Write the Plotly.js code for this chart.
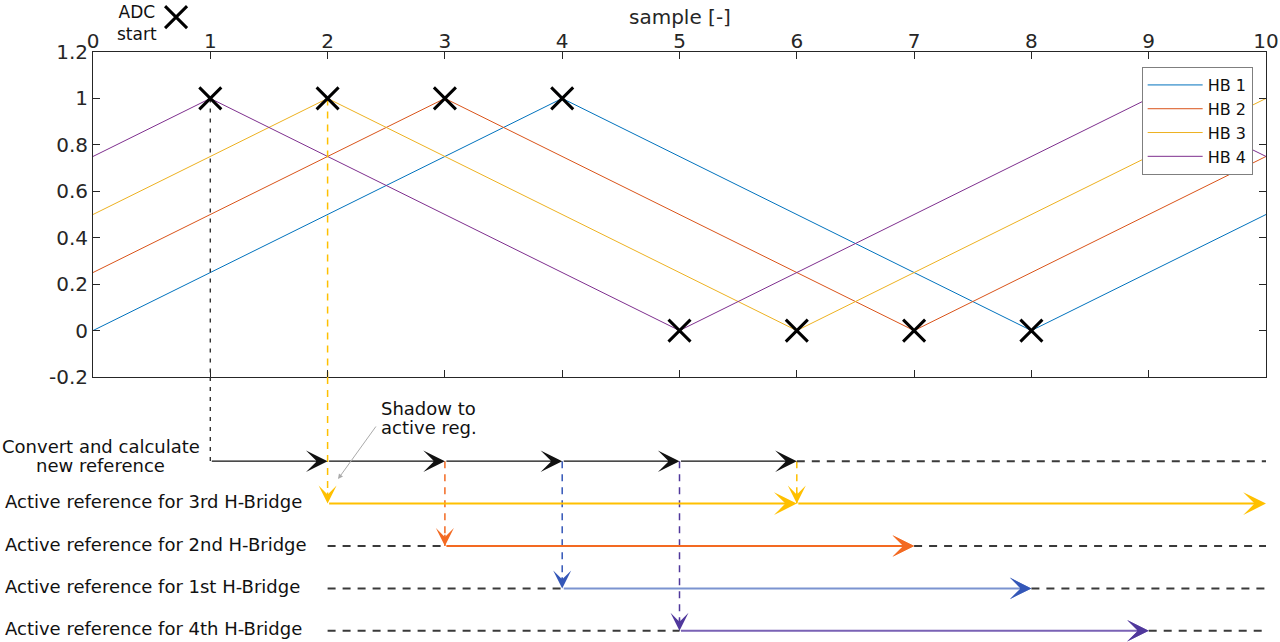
<!DOCTYPE html>
<html><head><meta charset="utf-8">
<script src="https://cdn.plot.ly/plotly-3.0.1.min.js"></script>
<style>html,body{margin:0;padding:0;background:#fff}#chart{width:1280px;height:642px}</style>
</head><body><div id="chart"></div>
<script>
// ---------- Top panel: carrier waveforms ----------
const hb1X = [0, 4, 8, 10];
const hb1Y = [0, 1, 0, 0.5];
const hb2X = [0, 3, 7, 10];
const hb2Y = [0.25, 1, 0, 0.75];
const hb3X = [0, 2, 6, 10];
const hb3Y = [0.5, 1, 0, 1];
const hb4X = [0, 1, 5, 9, 10];
const hb4Y = [0.75, 1, 0, 1, 0.75];
const seriesNames = ['HB 1', 'HB 2', 'HB 3', 'HB 4'];
const adcX = [1, 2, 3, 4, 5, 6, 7, 8];
const adcY = [1, 1, 1, 1, 0, 0, 0, 0];
const xTickVals = [0, 1, 2, 3, 4, 5, 6, 7, 8, 9, 10];
const yTickVals = [-0.2, 0, 0.2, 0.4, 0.6, 0.8, 1, 1.2];
const yTickText = ['-0.2', '0', '0.2', '0.4', '0.6', '0.8', '1', '1.2'];

// ---------- Bottom panel: timing diagram (rows 0..4) ----------
const rowLabels = ['Active reference for 3rd H-Bridge', 'Active reference for 2nd H-Bridge',
                   'Active reference for 1st H-Bridge', 'Active reference for 4th H-Bridge'];
const convertSteps = [1, 2, 3, 4, 5, 6];        // convert arrows from each sample to the next
const convertEnd = 10;
const hb3Steps = [2, 6, 10];                     // 3rd H-bridge active reference arrows
const winRows = [2, 3, 4];                       // 2nd, 1st, 4th H-bridge rows
const winStart = [3, 4, 5];
const winEnd = [7, 8, 9];
const idleStart = 2;
const axisEnd = 10;
const dropX = [3, 4, 5, 6];                      // shadow-to-active transfers
const dropRow = [2, 3, 4, 1];

const topColors = ['#0072BD', '#D95319', '#EDB120', '#7E2F8E'];
const rowLine = {1: '#FFC000', 2: '#F36A22', 3: '#7B93D0', 4: '#7A62B5'};
const rowHead = {1: '#FFC000', 2: '#F36A22', 3: '#3457B8', 4: '#50389C'};
const idleColor = '#3A3A3A';
const FONT = 'DejaVu Sans, Verdana, sans-serif';
const TXT = '#262626';

const Y2TOP = -1.986, Y2BOT = 4.264;
const TOPDOM = [0.41277, 0.919];

const traces = [];
[[hb1X, hb1Y], [hb2X, hb2Y], [hb3X, hb3Y], [hb4X, hb4Y]].forEach((s, i) => {
  traces.push({x: s[0], y: s[1], type: 'scatter', mode: 'lines', name: seriesNames[i],
    line: {color: topColors[i], width: 1}, xaxis: 'x', yaxis: 'y'});
});

function seg(x0, x1, y0, y1, color, width, dash, ax) {
  traces.push({x: [x0, x1], y: [y0, y1], type: 'scatter', mode: 'lines', showlegend: false,
    hoverinfo: 'skip', line: {color: color, width: width, dash: dash},
    xaxis: ax === 'top' ? 'x' : 'x2', yaxis: ax === 'top' ? 'y' : 'y2'});
}
// drops from ADC start points in the top panel
seg(adcX[0], adcX[0], adcY[0], -0.2, '#333', 1.4, '4px,6px', 'top');
seg(adcX[1], adcX[1], adcY[1], -0.2, '#FFC000', 1.5, '7px,6px', 'top');
seg(adcX[0], adcX[0], Y2TOP, 0, '#333', 1.4, '4px,6px');
seg(adcX[1], adcX[1], Y2TOP, 1, '#FFC000', 1.5, '7px,6px');
// transfer drops from convert row
dropX.forEach((x, i) => seg(x, x, 0, dropRow[i], rowHead[dropRow[i]], 1.5, '7px,6px'));
// idle dashed lines
seg(convertSteps[convertSteps.length - 1], convertEnd, 0, 0, idleColor, 2, '8px,7px');
winRows.forEach((r, i) => {
  seg(idleStart, winStart[i], r, r, idleColor, 2, '8px,7px');
  seg(winEnd[i], axisEnd, r, r, idleColor, 2, '8px,7px');
});

traces.push({x: adcX, y: adcY, type: 'scatter', mode: 'markers', showlegend: false, hoverinfo: 'skip',
  marker: {symbol: 'x-thin', size: 22, color: '#000', line: {width: 3, color: '#000'}},
  xaxis: 'x', yaxis: 'y'});
// "ADC start" key symbol, in its own small key strip above the axes
traces.push({x: [0.708], y: [0.67], type: 'scatter', mode: 'markers', showlegend: false, hoverinfo: 'skip',
  marker: {symbol: 'x-thin', size: 22, color: '#000', line: {width: 3, color: '#000'}},
  xaxis: 'x3', yaxis: 'y3'});

const ann = [];
function arrow(x0, x1, y, color, width, size) {
  ann.push({x: x1, y: y, ax: x0, ay: y, xref: 'x2', yref: 'y2', axref: 'x2', ayref: 'y2',
    text: '', showarrow: true, arrowhead: 3, arrowsize: size, arrowwidth: width, arrowcolor: color});
}
for (let i = 0; i < convertSteps.length - 1; i++) arrow(convertSteps[i], convertSteps[i + 1], 0, '#111', 1.2, 3);
for (let i = 0; i < hb3Steps.length - 1; i++) arrow(hb3Steps[i], hb3Steps[i + 1], 1, rowLine[1], 2, 1.9);
winRows.forEach((r, i) => {
  arrow(winStart[i], winEnd[i], r, rowLine[r], 2, 1.8);
  arrow(winEnd[i] - 0.08, winEnd[i], r, rowHead[r], 2, 1.8);
});
// down arrowheads
const downX = [adcX[1]].concat(dropX);
const downRow = [1].concat(dropRow);
downX.forEach((x, i) => {
  const r = downRow[i];
  ann.push({x: x, y: r, ax: x, ay: r - 0.3, xref: 'x2', yref: 'y2', axref: 'x2', ayref: 'y2',
    text: '', showarrow: true, arrowhead: 3, arrowsize: 2, arrowwidth: 1.5, arrowcolor: rowHead[r]});
});
// shadow-to-active callout
ann.push({x: 2.089, y: 0.42, ax: 2.421, ay: -0.854, xref: 'x2', yref: 'y2', axref: 'x2', ayref: 'y2',
  text: '', showarrow: true, arrowhead: 2, arrowsize: 1, arrowwidth: 1, arrowcolor: '#AAAAAA'});
ann.push({x: 2.864, y: 0, yshift: 53, xref: 'x2', yref: 'y2', text: 'Shadow to', showarrow: false,
  font: {family: FONT, size: 18, color: '#111'}});
ann.push({x: 2.864, y: 0, yshift: 34, xref: 'x2', yref: 'y2', text: 'active reg.', showarrow: false,
  font: {family: FONT, size: 18, color: '#111'}});
// row labels
ann.push({x: 0.0068, xref: 'paper', y: 0, yref: 'y2', yshift: 15, xanchor: 'center', text: 'Convert and calculate',
  showarrow: false, font: {family: FONT, size: 18, color: '#111'}});
ann.push({x: 0.0068, xref: 'paper', y: 0, yref: 'y2', yshift: -4, xanchor: 'center', text: 'new reference',
  showarrow: false, font: {family: FONT, size: 18, color: '#111'}});
rowLabels.forEach((t, i) => {
  ann.push({x: -0.0767, xref: 'paper', y: i + 1, yref: 'y2', yshift: 2, xanchor: 'left', text: t,
    showarrow: false, font: {family: FONT, size: 18, color: '#111'}});
});
// ADC start key text
ann.push({x: 0.0375, xref: 'paper', xanchor: 'center', y: 1.0, yref: 'paper', yanchor: 'top', text: 'ADC<br>start',
  align: 'center', showarrow: false, font: {family: FONT, size: 17, color: '#111'}});
// x-axis title (top)
ann.push({x: 0.5, xref: 'paper', xanchor: 'center', y: 0.9735, yref: 'paper', yanchor: 'middle', text: 'sample [-]',
  showarrow: false, font: {family: FONT, size: 20, color: TXT}});

const layout = {
  width: 1280, height: 642,
  margin: {l: 93, r: 14, t: 0, b: 0},
  paper_bgcolor: '#fff', plot_bgcolor: '#fff',
  font: {family: FONT, color: TXT},
  showlegend: true,
  legend: {x: 0.894, y: 0.8956, xanchor: 'left', yanchor: 'top', bgcolor: '#fff',
    bordercolor: '#7F7F7F', borderwidth: 1, font: {family: FONT, size: 16, color: '#111'},
    itemwidth: 55, tracegroupgap: 0},
  xaxis: {domain: [0, 1], anchor: 'y', side: 'top', range: [0, 10], tickvals: xTickVals,
    ticks: 'inside', ticklen: 7, tickcolor: TXT, showline: true, linecolor: TXT, linewidth: 1,
    mirror: 'ticks', showgrid: false, zeroline: false, tickfont: {family: FONT, size: 20, color: TXT},
    ticklabelstandoff: -5},
  yaxis: {domain: TOPDOM, anchor: 'x', range: [-0.2, 1.2], tickvals: yTickVals, ticktext: yTickText,
    ticks: 'inside', ticklen: 7, tickcolor: TXT, showline: true, linecolor: TXT, linewidth: 1,
    mirror: 'ticks', showgrid: false, zeroline: false, tickfont: {family: FONT, size: 20, color: TXT}},
  xaxis2: {domain: [0, 1], anchor: 'y2', range: [0, 10], visible: false},
  yaxis2: {domain: [0, TOPDOM[0]], anchor: 'x2', range: [Y2BOT, Y2TOP], visible: false},
  xaxis3: {domain: [0, 1], anchor: 'y3', range: [0, 10], visible: false},
  yaxis3: {domain: [TOPDOM[1], 1], anchor: 'x3', range: [0, 1], visible: false},
  annotations: ann
};
Plotly.newPlot('chart', traces, layout, {displayModeBar: false, staticPlot: true});
</script></body></html>
